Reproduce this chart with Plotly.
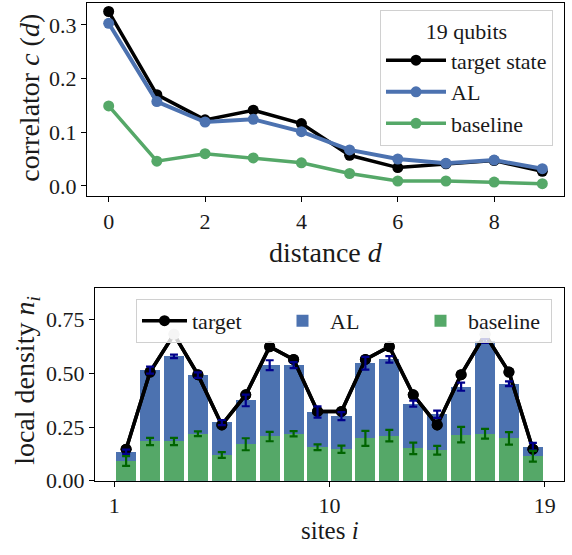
import plotly.graph_objects as go

# ---------------- data: top panel (correlator vs distance) ----------------
distance = [0, 1, 2, 3, 4, 5, 6, 7, 8, 9]
corr_target = [0.325, 0.170, 0.123, 0.141, 0.116, 0.057, 0.034, 0.041, 0.047, 0.027]
corr_target_err = [0.003, 0.003, 0.002, 0.002, 0.002, 0.002, 0.002, 0.002, 0.002, 0.002]
corr_AL = [0.303, 0.157, 0.119, 0.124, 0.101, 0.067, 0.050, 0.042, 0.048, 0.032]
corr_AL_err = [0.004, 0.004, 0.003, 0.003, 0.003, 0.003, 0.003, 0.003, 0.003, 0.003]
corr_base = [0.149, 0.046, 0.060, 0.052, 0.043, 0.023, 0.009, 0.009, 0.007, 0.004]
corr_base_err = [0.009, 0.004, 0.003, 0.003, 0.003, 0.003, 0.002, 0.002, 0.002, 0.002]

# ---------------- data: bottom panel (local density per site) ----------------
sites = list(range(1, 19))
dens_target = [0.147, 0.506, 0.682, 0.494, 0.260, 0.400, 0.624, 0.565, 0.323,
               0.323, 0.565, 0.624, 0.400, 0.260, 0.494, 0.682, 0.506, 0.147]
dens_AL = [0.135, 0.515, 0.579, 0.492, 0.271, 0.374, 0.538, 0.538, 0.320,
           0.301, 0.547, 0.565, 0.359, 0.310, 0.438, 0.651, 0.452, 0.159]
dens_AL_err = [0.010, 0.016, 0.008, 0.013, 0.012, 0.027, 0.023, 0.014, 0.026,
               0.019, 0.030, 0.015, 0.014, 0.017, 0.019, 0.009, 0.011, 0.017]
dens_base = [0.092, 0.183, 0.183, 0.219, 0.120, 0.170, 0.206, 0.219, 0.156,
             0.147, 0.197, 0.210, 0.151, 0.142, 0.215, 0.219, 0.197, 0.114]
dens_base_err = [0.023, 0.017, 0.017, 0.011, 0.013, 0.028, 0.022, 0.012, 0.013,
                 0.017, 0.035, 0.027, 0.027, 0.020, 0.036, 0.023, 0.029, 0.025]
highlight_sites = [3, 16]
site_ticks = [1, 10, 19]

FONT = "Liberation Serif"
TXT = "#1a1a1a"
BLACK = "#000000"
BLUE = "#4C72B0"
GREEN = "#55A868"
W, H = 572, 555

fig = go.Figure()

# ---- top panel ----
for name, ys, es, col, lw in [
    ("target state", corr_target, corr_target_err, BLACK, 3.5),
    ("AL", corr_AL, corr_AL_err, BLUE, 4),
    ("baseline", corr_base, corr_base_err, GREEN, 3.5),
]:
    fig.add_trace(go.Scatter(
        x=distance, y=ys, name=name, mode="lines+markers",
        line=dict(color=col, width=lw),
        marker=dict(color=col, size=11),
        error_y=dict(type="data", array=es, color=col, thickness=2.5, width=0),
        xaxis="x", yaxis="y", legend="legend",
    ))

# ---- bottom panel ----
bar_x = [s + 0.5 for s in sites]
target_colors = ["#cccccc" if s in highlight_sites else BLACK for s in sites]
# legend entry for the target (first in legend); its marks are redrawn on top below
fig.add_trace(go.Scatter(
    x=bar_x, y=dens_target, name="target", mode="lines+markers",
    line=dict(color=BLACK, width=3.5), marker=dict(color=target_colors, size=11),
    xaxis="x2", yaxis="y2", legend="legend2",
))
fig.add_trace(go.Bar(
    x=bar_x, y=dens_AL, name="AL", marker=dict(color=BLUE, line=dict(width=0)),
    width=0.84, xaxis="x2", yaxis="y2", legend="legend2",
))
fig.add_trace(go.Bar(
    x=bar_x, y=dens_base, name="baseline", marker=dict(color=GREEN, line=dict(width=0)),
    width=0.84, xaxis="x2", yaxis="y2", legend="legend2",
))
fig.add_trace(go.Scatter(
    x=bar_x, y=dens_target, name="target", mode="lines+markers", showlegend=False,
    line=dict(color=BLACK, width=3.5), marker=dict(color=target_colors, size=11),
    xaxis="x2", yaxis="y2",
))
# error bars drawn on top
for ys, es, col in [(dens_AL, dens_AL_err, "#00008B"), (dens_base, dens_base_err, "#006400")]:
    fig.add_trace(go.Scatter(
        x=bar_x, y=ys, mode="markers", showlegend=False, hoverinfo="skip",
        marker=dict(size=1, color="rgba(0,0,0,0)"),
        error_y=dict(type="data", array=es, color=col, thickness=2.2, width=4),
        xaxis="x2", yaxis="y2",
    ))

axis_common = dict(
    showline=True, linecolor="black", linewidth=1.2, mirror=True,
    ticks="outside", ticklen=5, tickwidth=1.2, tickcolor="black",
    showgrid=False, zeroline=False,
    tickfont=dict(family=FONT, size=22, color=TXT),
)

fig.update_layout(
    width=W, height=H,
    margin=dict(l=0, r=0, t=0, b=0),
    paper_bgcolor="white", plot_bgcolor="white",
    barmode="overlay", bargap=0,
    font=dict(family=FONT, size=22, color=TXT),
    xaxis=dict(domain=[87 / W, 564 / W], range=[-0.45, 9.45], tickvals=[0, 2, 4, 6, 8],
               anchor="y", **axis_common),
    yaxis=dict(domain=[1 - 201 / H, 1 - 3 / H], range=[-0.0195, 0.341],
               tickvals=[0, 0.1, 0.2, 0.3], tickformat=".1f", anchor="x", **axis_common),
    xaxis2=dict(domain=[95 / W, 564 / W], range=[0.2, 19.8], tickvals=site_ticks,
                anchor="y2", **axis_common),
    yaxis2=dict(domain=[1 - 492.3 / H, 1 - 295 / H], range=[0, 0.897],
                tickvals=[0, 0.25, 0.5, 0.75], tickformat=".2f", anchor="x2", **axis_common),
    legend=dict(
        x=553 / W, xanchor="right", y=1 - 10 / H, yanchor="top",
        title=dict(text="19 qubits", side="top center", font=dict(family=FONT, size=22, color=TXT)),
        bgcolor="rgba(255,255,255,0.8)", bordercolor="#d0d0d0", borderwidth=1,
        font=dict(family=FONT, size=22, color=TXT), itemwidth=60,
        tracegroupgap=0,
    ),
    legend2=dict(
        orientation="h", x=552 / W, xanchor="right", y=1 - 306 / H, yanchor="top",
        bgcolor="rgba(255,255,255,0.8)", bordercolor="#d0d0d0", borderwidth=1,
        font=dict(family=FONT, size=22, color=TXT), itemwidth=45,
        entrywidth=78, entrywidthmode="pixels", traceorder="normal",
    ),
    annotations=[
        dict(text="correlator <i>c</i> (<i>d</i>)", x=30 / W, y=1 - 100 / H, xref="paper", yref="paper",
             textangle=-90, showarrow=False, font=dict(family=FONT, size=28, color=TXT),
             xanchor="center", yanchor="middle"),
        dict(text="distance <i>d</i>", x=325.5 / W, y=1 - 259 / H, xref="paper", yref="paper",
             showarrow=False, font=dict(family=FONT, size=28, color=TXT),
             xanchor="center", yanchor="middle"),
        dict(text="local density <i>n<sub>i</sub></i>", x=27 / W, y=1 - 390 / H, xref="paper", yref="paper",
             textangle=-90, showarrow=False, font=dict(family=FONT, size=28, color=TXT),
             xanchor="center", yanchor="middle"),
        dict(text="sites <i>i</i>", x=329.5 / W, y=1 - 543 / H, xref="paper", yref="paper",
             showarrow=False, font=dict(family=FONT, size=25, color=TXT),
             xanchor="center", yanchor="middle"),
    ],
)

# remove the browser's default 8px page margin so the figure fills the window exactly
fig.write_html("out.html", config={"displayModeBar": False},
               post_script="document.body.style.margin='0px';")
